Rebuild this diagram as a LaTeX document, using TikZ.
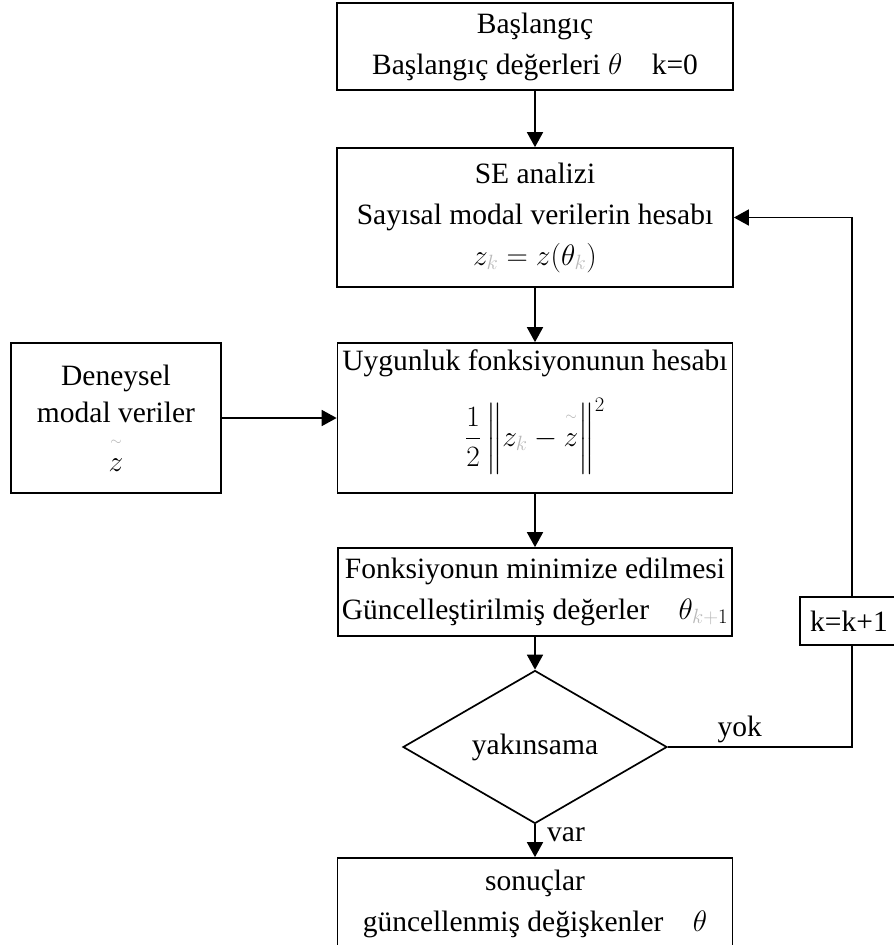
\RequirePackage{fix-cm}
\documentclass[tikz,border=0pt]{standalone}
\usepackage{amsmath}
\usepackage{amssymb}
\usepackage{fontspec}
\setmainfont{Liberation Serif}
\usepackage{tikz}
\usetikzlibrary{shapes.geometric,arrows.meta}

\tikzset{
  kutu/.style={draw, line width=1.7pt, align=center, inner sep=0pt},
  ok/.style={line width=1.7pt, -{Triangle[length=15pt,width=16pt]}},
  hat/.style={line width=1.7pt},
  every node/.style={font=\fontsize{29.5}{41}\selectfont}
}
\newcommand{\gk}[1]{\textcolor{gray!55}{#1}}
\newcommand{\tz}{\overset{\raisebox{7pt}{$\scriptscriptstyle\textcolor{gray!60}{\sim}$}}{z}}

\begin{document}
\begin{tikzpicture}[x=1pt,y=-1pt]
  \useasboundingbox (0,0) rectangle (894,945);
  \clip (0,0) rectangle (894,945);
  \node (baslangic) at (535,46.5) [kutu, minimum width=396pt, minimum height=87pt]
    {Başlangıç\\Başlangıç değerleri $\theta$\quad k=0};
  \node (se) at (535,217.5) [kutu, minimum width=396pt, minimum height=139pt]
    {SE analizi\\Sayısal modal verilerin hesabı\\$z_{\gk{k}}=z(\theta_{\gk{k}})$};
  \node (deneysel) at (116,418) [kutu, minimum width=210pt, minimum height=150pt]
    {Deneysel\\[-4pt]modal veriler\\[8pt]$\tz$};
  \node (uygunluk) at (535,418) [kutu, minimum width=395pt, minimum height=150pt]
    {Uygunluk fonksiyonunun hesabı\\[20pt]$\dfrac{1}{2}\left\|\vphantom{\dfrac{1}{2}}z_{\gk{k}}-\tz\right\|^{2}$\rule[-40pt]{0pt}{0pt}};
  \node (fonksiyon) at (535,592) [kutu, minimum width=394pt, minimum height=88pt]
    {Fonksiyonun minimize edilmesi\\Güncelleştirilmiş değerler\quad $\theta_{\gk{k+}1}$};
  \node (karar) at (535,747) [draw, diamond, line width=1.7pt, inner sep=0pt,
    minimum width=264pt, minimum height=108pt] {yakınsama};
  \node (kbox) at (849,621) [kutu, minimum width=98pt, minimum height=48pt] {k=k+1};
  \node (sonuc) at (535,904) [kutu, minimum width=395pt, minimum height=92pt]
    {sonuçlar\\güncellenmiş değişkenler\quad $\theta$};
  \coordinate (donus) at (852,747);

  \draw[ok] (baslangic) -- (se);
  \draw[ok] (se) -- (uygunluk);
  \draw[ok] (deneysel) -- (uygunluk);
  \draw[ok] (uygunluk) -- (fonksiyon);
  \draw[ok] (fonksiyon) -- (karar);
  \draw[ok] (karar) -- node[right, xshift=8pt, pos=0.3] {var} (sonuc);
  \draw[hat] (karar.east) -- node[above, pos=0.39] {yok} (donus) -- (donus |- kbox.south);
  \draw[ok] (donus |- kbox.north) |- (se.east);
\end{tikzpicture}
\end{document}
